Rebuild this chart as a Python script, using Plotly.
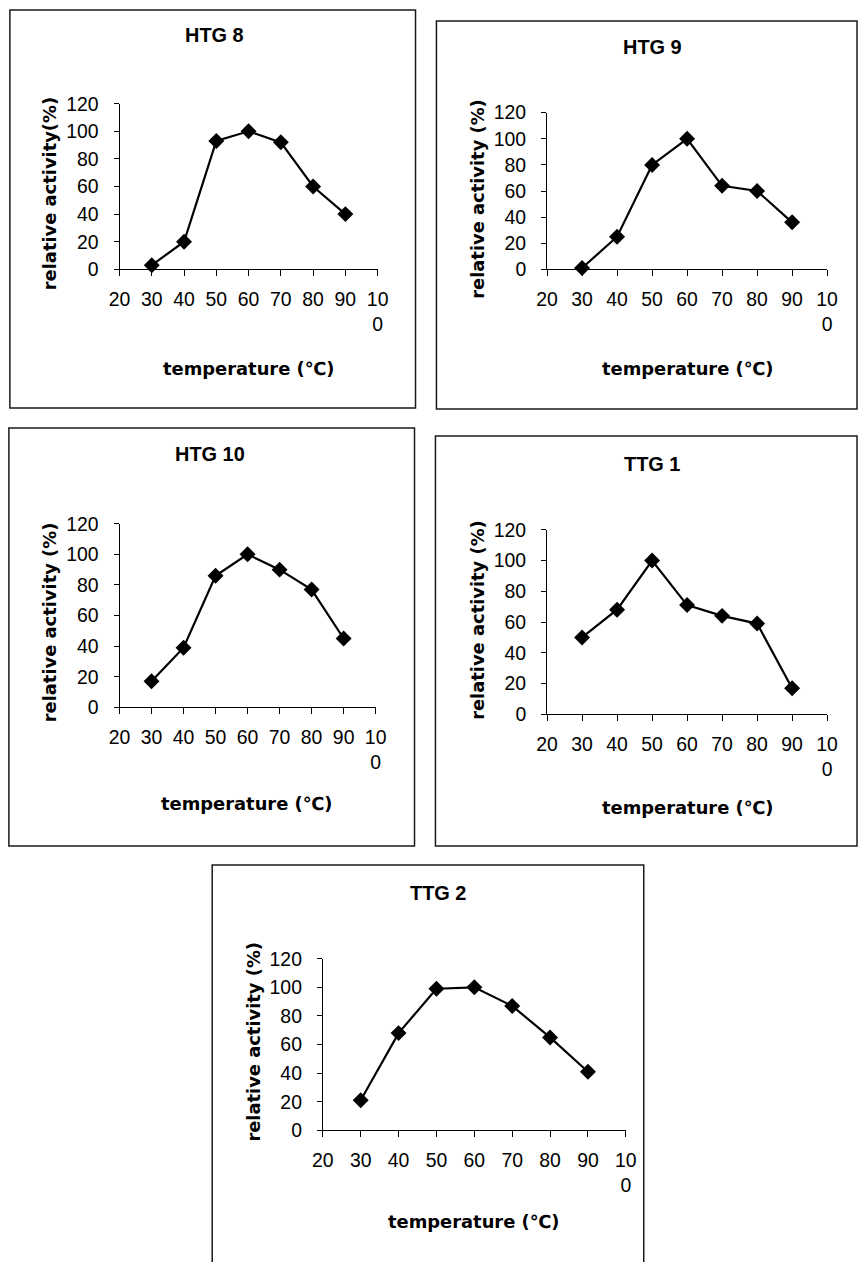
import plotly.graph_objects as go

# Temperature profiles of enzyme activity for five isolates
temperatures = [30, 40, 50, 60, 70, 80, 90]
htg8 = [3, 20, 93, 100, 92, 60, 40]
htg9 = [1, 25, 80, 100, 64, 60, 36]
htg10 = [17, 39, 86, 100, 90, 77, 45]
ttg1 = [50, 68, 100, 71, 64, 59, 17]
ttg2 = [21, 68, 99, 100, 87, 65, 41]

panel_titles = ["HTG 8", "HTG 9", "HTG 10", "TTG 1", "TTG 2"]
y_titles = ["relative activity(%)", "relative activity (%)", "relative activity (%)",
            "relative activity (%)", "relative activity (%)"]
x_title = "temperature (℃)"

x_tick_vals = [20, 30, 40, 50, 60, 70, 80, 90, 100]
x_tick_text = ["20", "30", "40", "50", "60", "70", "80", "90", "10<br>0"]
y_tick_vals = [0, 20, 40, 60, 80, 100, 120]

series = [htg8, htg9, htg10, ttg1, ttg2]

# figure size and the mapping from screen pixels to paper fractions
W, H = 870, 1275
BODY_MARGIN = 8
SX, AX = 0.978, 1.3
SY, AY = 0.985, 1.2
K = 1.0 / SX  # size compensation for fonts and markers


def px_x(v):
    return ((v - AX) / SX - BODY_MARGIN) / W


def px_y(v):
    return 1 - ((v - AY) / SY - BODY_MARGIN) / H


# screen-pixel layout of each panel: plot area, frame, title and axis-title anchors
panels = [
    dict(plot=(118, 377, 102, 268), box=(8, 415, 8, 407), title=(213, 33), ytl=(48, 192), xtl=(248, 367)),
    dict(plot=(547, 828, 111, 268), box=(436, 858, 19, 408), title=(653, 45), ytl=(477, 197), xtl=(688, 367)),
    dict(plot=(118, 375, 523, 707), box=(7, 414, 427, 846), title=(209, 453), ytl=(48, 622), xtl=(246, 803)),
    dict(plot=(547, 828, 529, 714), box=(435, 858, 435, 846), title=(652, 463), ytl=(477, 619), xtl=(688, 807)),
    dict(plot=(322, 626, 959, 1131), box=(211, 644, 865, 1300), title=(438, 893), ytl=(252, 1042), xtl=(474, 1222)),
]

tick_font = dict(family="Liberation Sans, Arial, sans-serif", size=19 * K, color="black")
title_font = dict(family="Liberation Sans, Arial, sans-serif", size=19.5 * K, color="black")
axis_title_font = dict(family="DejaVu Sans, sans-serif", size=17.5 * K, color="black")

fig = go.Figure()
layout = dict(
    width=W, height=H,
    margin=dict(l=0, r=0, t=0, b=0),
    paper_bgcolor="white", plot_bgcolor="white",
    showlegend=False,
    shapes=[], annotations=[],
)

for i, (p, ys) in enumerate(zip(panels, series)):
    n = "" if i == 0 else str(i + 1)
    x0, x1, yt, yb = p["plot"]
    fig.add_trace(go.Scatter(
        x=temperatures, y=ys, mode="lines+markers",
        line=dict(color="black", width=2.2),
        marker=dict(symbol="diamond", size=12 * K, color="black"),
        xaxis="x" + n, yaxis="y" + n, cliponaxis=False,
    ))
    layout["xaxis" + n] = dict(
        domain=[px_x(x0), px_x(x1)], anchor="y" + n, range=[20, 100],
        tickmode="array", tickvals=x_tick_vals, ticktext=x_tick_text,
        ticks="outside", ticklen=6, tickwidth=1, tickcolor="black",
        showline=True, linecolor="black", linewidth=1, showgrid=False, zeroline=False,
        tickfont=tick_font, ticklabelstandoff=6,
    )
    layout["yaxis" + n] = dict(
        domain=[px_y(yb), px_y(yt)], anchor="x" + n, range=[0, 120],
        tickmode="array", tickvals=y_tick_vals,
        ticks="outside", ticklen=5, tickwidth=1, tickcolor="black",
        showline=True, linecolor="black", linewidth=1, showgrid=False, zeroline=False,
        tickfont=tick_font, ticklabelstandoff=11,
    )
    bx0, bx1, by0, by1 = p["box"]
    layout["shapes"].append(dict(
        type="rect", xref="paper", yref="paper",
        x0=px_x(bx0), x1=px_x(bx1), y0=px_y(by1), y1=px_y(by0),
        line=dict(color="#1a1a1a", width=1.5), fillcolor="rgba(0,0,0,0)", layer="below",
    ))
    tx, ty = p["title"]
    layout["annotations"].append(dict(
        text="<b>%s</b>" % panel_titles[i], xref="paper", yref="paper",
        x=px_x(tx), y=px_y(ty), xanchor="center", yanchor="middle",
        showarrow=False, font=title_font,
    ))
    yx, yy = p["ytl"]
    layout["annotations"].append(dict(
        text="<b>%s</b>" % y_titles[i], xref="paper", yref="paper",
        x=px_x(yx), y=px_y(yy), xanchor="center", yanchor="middle",
        textangle=-90, showarrow=False, font=axis_title_font,
    ))
    xx, xy = p["xtl"]
    layout["annotations"].append(dict(
        text="<b>%s</b>" % x_title, xref="paper", yref="paper",
        x=px_x(xx), y=px_y(xy), xanchor="center", yanchor="middle",
        showarrow=False, font=axis_title_font,
    ))

fig.update_layout(**layout)
fig.write_html("out.html")
